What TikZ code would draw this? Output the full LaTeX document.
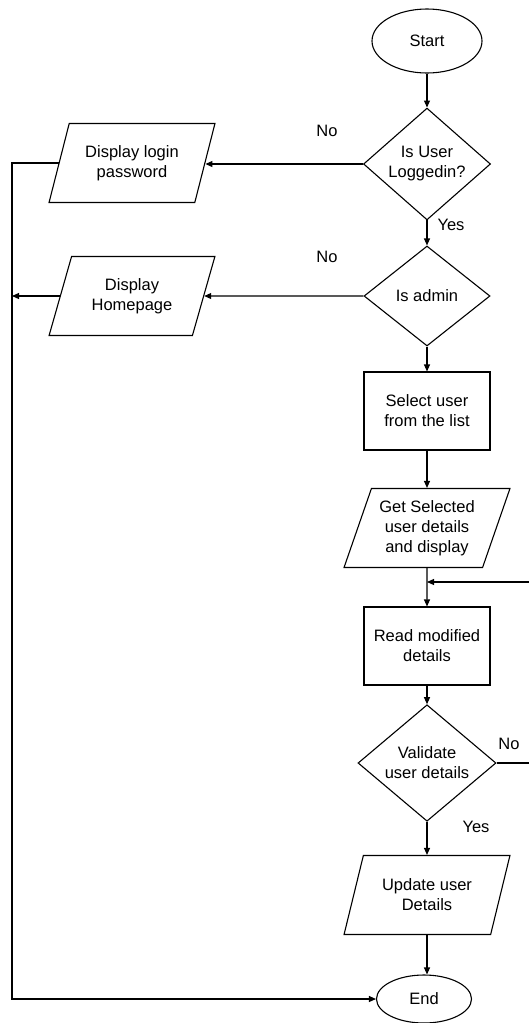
\documentclass[tikz,border=0pt]{standalone}
\usepackage{fontspec}
\setmainfont{Liberation Sans}
\usetikzlibrary{shapes.geometric,arrows.meta}
\begin{document}
\begin{tikzpicture}[x=1pt,y=-1pt,
  every node/.style={font=\fontsize{16.5}{20}\selectfont, align=center, inner sep=0pt},
  shp/.style={draw, line width=1.1pt},
  term/.style={shp, ellipse},
  dec/.style={shp, diamond},
  proc/.style={shp, rectangle, minimum width=126, minimum height=78},
  io/.style={shp, trapezium, trapezium left angle=67, trapezium right angle=113,
     trapezium stretches=true, minimum width=166, minimum height=79},
  arr/.style={line width=1.1pt, -{Triangle[length=7pt,width=6pt]}},
  ln/.style={line width=1.1pt},
  lbl/.style={}]
\useasboundingbox (0,0) rectangle (529,1023);

\node[term, minimum width=110, minimum height=64] (start) at (427,41) {Start};
\node[dec, minimum width=127, minimum height=108] (v1) at (427,164) {Is User\\Loggedin?};
\node[io] (dlp) at (132,163) {Display login\\password};
\node[dec, minimum width=126, minimum height=100] (v2) at (427,296) {Is admin};
\node[io] (dh) at (132,296) {Display\\Homepage};
\node[proc] (sel) at (427,411) {Select user\\from the list};
\node[io] (get) at (427,528) {Get Selected\\user details\\and display};
\node[proc] (read) at (427,646) {Read modified\\details};
\node[dec, minimum width=138, minimum height=106] (v3) at (427,763) {Validate\\user details};
\node[io] (upd) at (427,895) {Update user\\Details};
\node[term, minimum width=95, minimum height=48] (end) at (424,999) {End};

\coordinate (lx) at (12,0);
\coordinate (rin) at (529,582);

\node[lbl] (no1) at (327,131) {No};
\node[lbl] (yes1) at (451,225) {Yes};
\node[lbl] (no2) at (327,257) {No};
\node[lbl] (no3) at (509,744) {No};
\node[lbl] (yes3) at (476,827) {Yes};

\draw[arr] (start) -- (v1);
\draw[arr] (v1.west) -- (v1.west -| dlp.east);
\draw[arr] (dlp.west) -- (dlp.west -| lx) |- (end.west);
\draw[arr] (v1) -- (v2);
\draw[arr] (v2.west) -- (dh.east);
\draw[arr] (dh.west) -- (dh.west -| lx);
\draw[arr] (v2) -- (sel);
\draw[arr] (sel) -- (get);
\draw[arr] (get) -- (read);
\draw[arr] (rin) -- (rin -| get.south);
\draw[arr] (read) -- (v3);
\draw[ln] (v3.east) -- (v3.east -| rin);
\draw[arr] (v3) -- (upd);
\draw[arr] (upd.south) -- (upd.south |- end.north);
\end{tikzpicture}
\end{document}
